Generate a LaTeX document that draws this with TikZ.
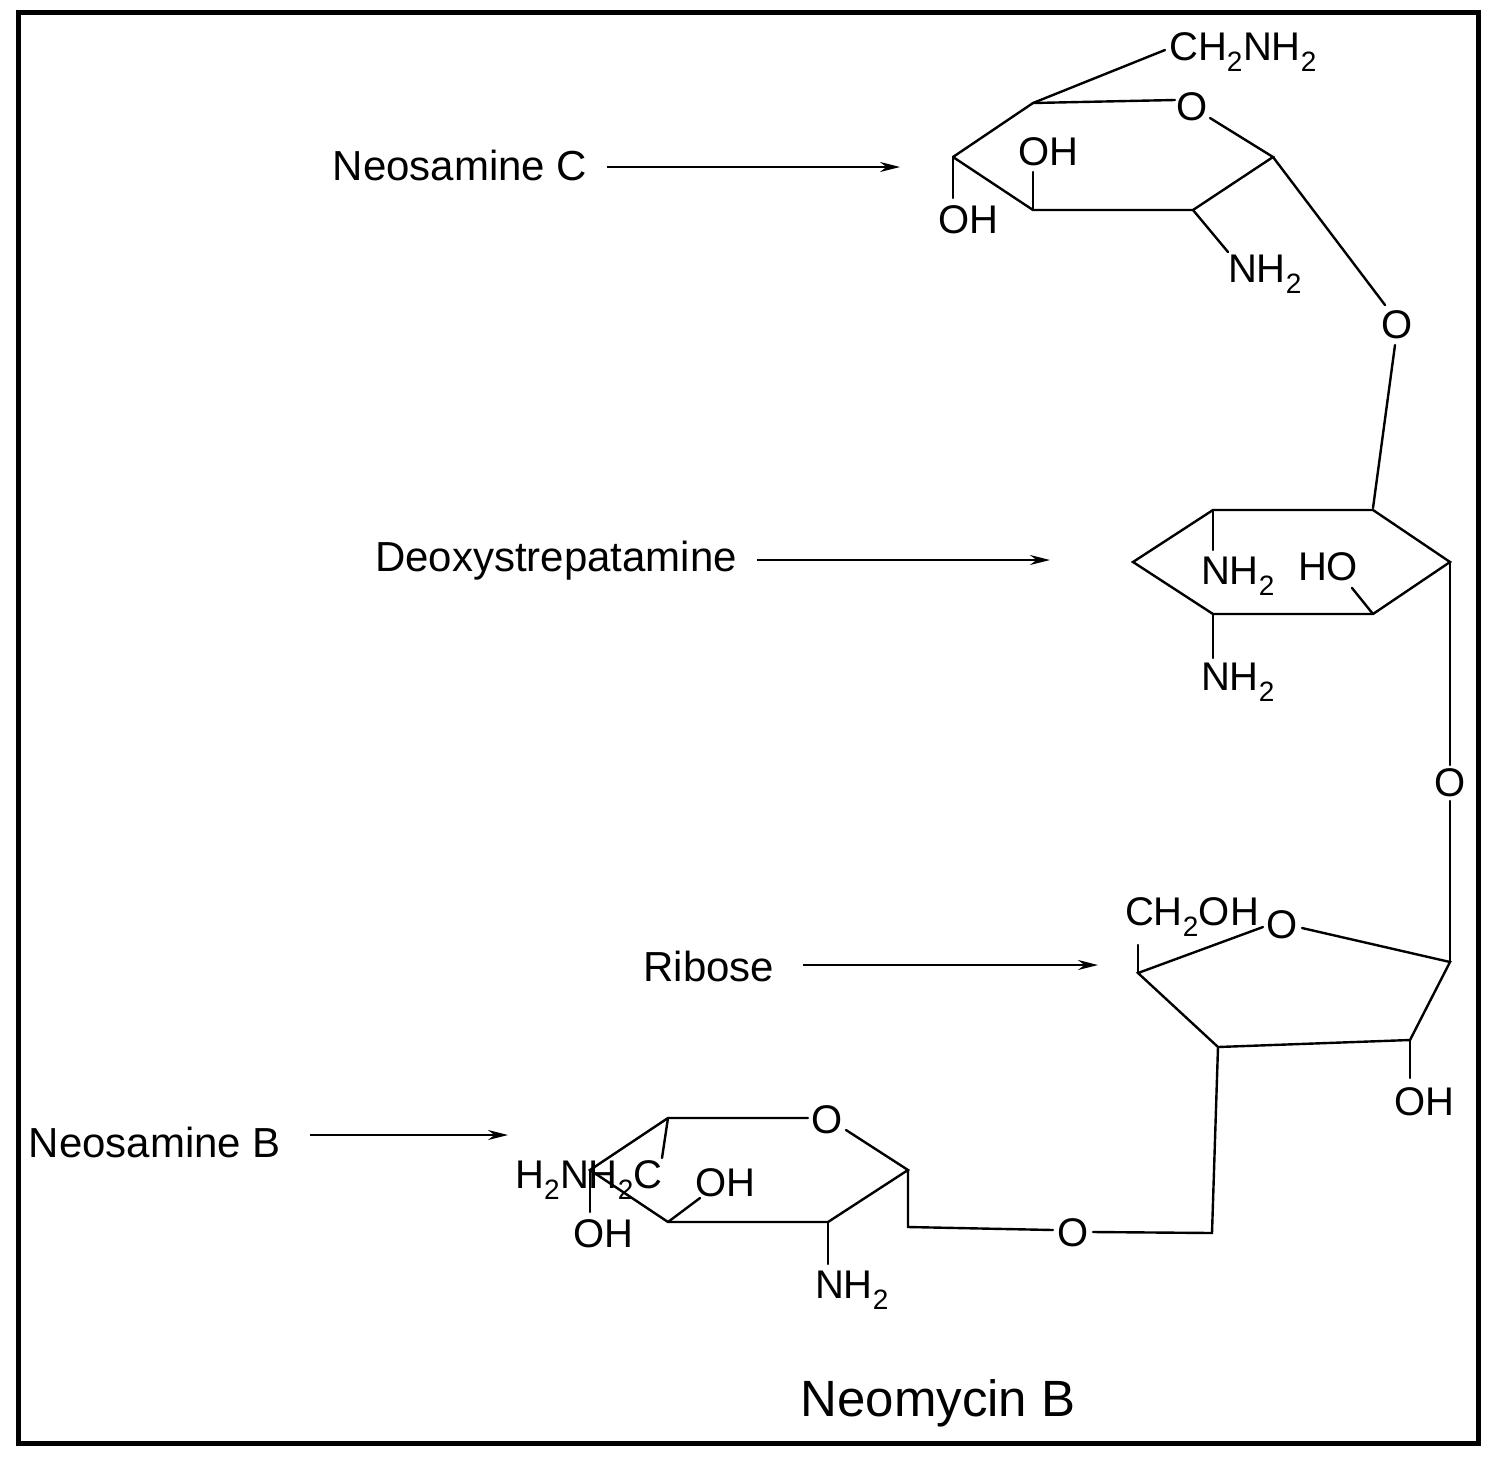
\documentclass[tikz,border=0pt]{standalone}
\usepackage{fontspec}
\setmainfont{Liberation Sans}
\usetikzlibrary{arrows.meta}
\newcommand{\sbs}[1]{\textsubscript{#1}}
\begin{document}
\begin{tikzpicture}[x=1pt,y=-1pt,
  bond/.style={line width=2.4pt,line cap=round},
  lbl/.style={font=\fontsize{42}{44}\selectfont,inner sep=0pt},
  atom/.style={font=\fontsize{40}{42}\selectfont,inner sep=0pt},
  arr/.style={line width=2.2pt,-{Stealth[length=20pt,width=10pt]}}]
\useasboundingbox (0,0) rectangle (1494,1457);
\draw[line width=5pt] (18,12) rectangle (1478,1443);
% labels and arrows
\node[lbl] (lc) at (460,165) {Neosamine C};
\coordinate (ac) at (900,167);
\draw[arr] (607,167) -- (ac);
\node[lbl] (ld) at (556,561) {Deoxystrepatamine};
\coordinate (ad) at (1050,560);
\draw[arr] (757,560) -- (ad);
\node[lbl] (lr) at (709,966) {Ribose};
\coordinate (ar) at (1098,965);
\draw[arr] (803,965) -- (ar);
\node[lbl] (lb) at (155,1142) {Neosamine B};
\coordinate (ab) at (508,1135);
\draw[arr] (310,1135) -- (ab);
\node[font=\fontsize{51}{54}\selectfont,inner sep=0pt] (title) at (938,1403) {Neomycin B};
% Neosamine C
\draw[bond] (953,157) -- (1033,103) -- (1175,100);
\draw[bond] (1210,118) -- (1273,157) -- (1193,210) -- (1033,210) -- (953,157);
\draw[bond] (1033,103) -- (1165,50);
\node[atom] at (1243,52) {CH\sbs{2}NH\sbs{2}};
\node[atom] at (1192,107) {O};
\draw[bond] (953,157) -- (953,198);
\node[atom] at (968,220) {OH};
\draw[bond] (1033,210) -- (1033,172);
\node[atom] at (1048,152) {OH};
\draw[bond] (1193,210) -- (1228,252);
\node[atom] at (1265,274) {NH\sbs{2}};
\draw[bond] (1273,157) -- (1385,305);
\node[atom] at (1397,325) {O};
\draw[bond] (1395,345) -- (1373,508);
% Deoxystreptamine
\draw[bond] (1213,510) -- (1373,510) -- (1450,562) -- (1373,614) -- (1213,614) -- (1133,562) -- cycle;
\draw[bond] (1213,510) -- (1213,550);
\node[atom] at (1238,576) {NH\sbs{2}};
\draw[bond] (1373,614) -- (1352,588);
\node[atom] at (1328,567) {HO};
\draw[bond] (1213,614) -- (1213,658);
\node[atom] at (1238,682) {NH\sbs{2}};
\draw[bond] (1450,562) -- (1450,765);
\node[atom] at (1450,783) {O};
\draw[bond] (1450,801) -- (1450,962);
% Ribose
\node[atom] at (1282,925) {O};
\draw[bond] (1302,928) -- (1450,962) -- (1410,1040) -- (1218,1047) -- (1138,973) -- (1263,927);
\draw[bond] (1138,973) -- (1138,945);
\node[atom] at (1192,917) {CH\sbs{2}OH};
\draw[bond] (1410,1040) -- (1410,1078);
\node[atom] at (1424,1102) {OH};
\draw[bond] (1218,1047) -- (1212,1233) -- (1093,1232);
\node[atom] at (1073,1233) {O};
\draw[bond] (1053,1230) -- (908,1227) -- (908,1170);
% Neosamine B
\node[atom] at (827,1120) {O};
\draw[bond] (808,1118) -- (668,1118) -- (590,1170) -- (668,1222) -- (828,1222) -- (908,1170) -- (846,1130);
\draw[bond] (668,1118) -- (662,1158);
\node[atom] at (589,1180) {H\sbs{2}NH\sbs{2}C};
\draw[bond] (590,1170) -- (590,1212);
\node[atom] at (603,1234) {OH};
\draw[bond] (668,1222) -- (700,1198);
\node[atom] at (725,1183) {OH};
\draw[bond] (828,1222) -- (828,1264);
\node[atom] at (852,1290) {NH\sbs{2}};
\end{tikzpicture}
\end{document}
